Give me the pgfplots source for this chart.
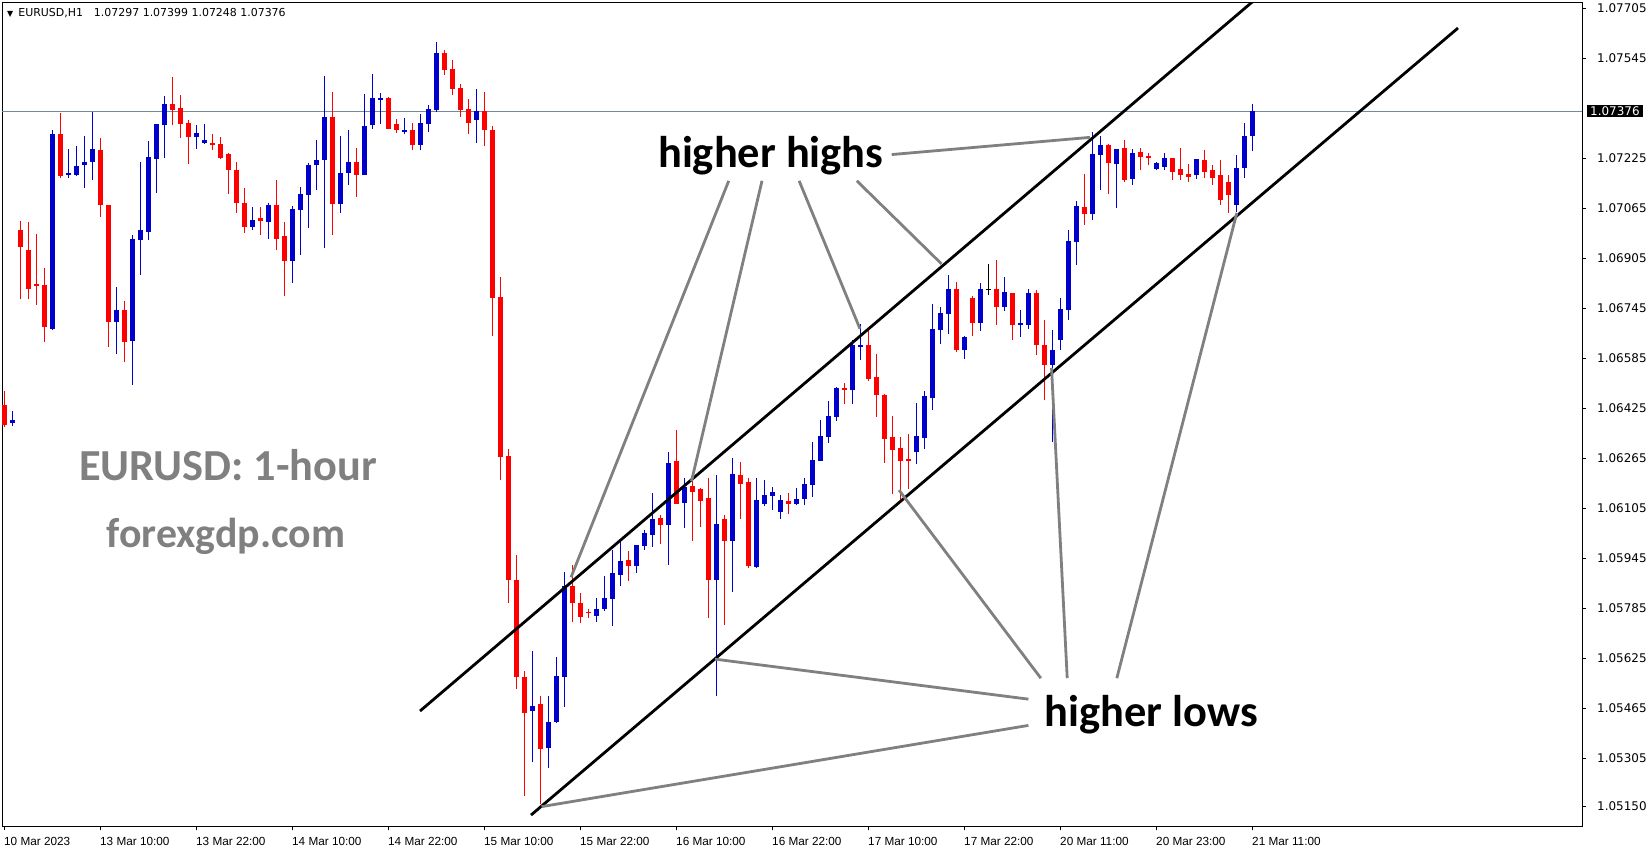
\documentclass[border=0pt]{standalone}
\usepackage{pgfplots}
\pgfplotsset{compat=1.18}
\usepackage{pgfplotstable}
\usepackage{fontspec}
\setmainfont{Liberation Sans}
\newfontfamily\carlito{Carlito}
\newfontfamily\dejavu{DejaVu Sans}
\definecolor{bullc}{RGB}{0,0,204}
\definecolor{bearc}{RGB}{255,0,0}
\definecolor{annog}{RGB}{128,128,128}
\definecolor{pline}{RGB}{119,136,153}

\pgfplotstableread{
i o h l c
0 1.06436 1.06480 1.06365 1.06372
2 1.06996 1.07025 1.06774 1.06940
3 1.06932 1.07021 1.06774 1.06808
4 1.06823 1.06983 1.06756 1.06817
5 1.06819 1.06874 1.06638 1.06684
7 1.07303 1.07370 1.07163 1.07169
12 1.07252 1.07290 1.07038 1.07074
13 1.07076 1.07076 1.06622 1.06702
15 1.06739 1.06767 1.06574 1.06638
21 1.07399 1.07486 1.07330 1.07381
22 1.07386 1.07428 1.07291 1.07336
23 1.07338 1.07348 1.07208 1.07294
26 1.07274 1.07303 1.07250 1.07269
27 1.07271 1.07293 1.07224 1.07227
28 1.07239 1.07242 1.07112 1.07189
29 1.07188 1.07213 1.07051 1.07083
30 1.07082 1.07130 1.06987 1.07006
32 1.07034 1.07070 1.06981 1.07025
34 1.07076 1.07156 1.06933 1.06968
35 1.06977 1.07021 1.06785 1.06897
41 1.07357 1.07438 1.06981 1.07080
44 1.07213 1.07258 1.07102 1.07173
48 1.07418 1.07421 1.07320 1.07320
49 1.07335 1.07351 1.07307 1.07317
51 1.07316 1.07338 1.07250 1.07269
55 1.07562 1.07572 1.07493 1.07509
56 1.07511 1.07540 1.07429 1.07448
57 1.07450 1.07463 1.07358 1.07381
58 1.07383 1.07415 1.07304 1.07339
60 1.07376 1.07437 1.07265 1.07314
61 1.07317 1.07328 1.06655 1.06779
62 1.06782 1.06845 1.06196 1.06268
63 1.06271 1.06295 1.05802 1.05874
64 1.05876 1.05954 1.05526 1.05564
65 1.05564 1.05585 1.05184 1.05451
67 1.05477 1.05505 1.05158 1.05336
71 1.05856 1.05923 1.05742 1.05801
72 1.05802 1.05834 1.05739 1.05758
73 1.05773 1.05783 1.05755 1.05769
78 1.05940 1.05968 1.05872 1.05921
82 1.06074 1.06083 1.05992 1.06052
84 1.06256 1.06356 1.06120 1.06120
86 1.06176 1.06196 1.06001 1.06158
87 1.06165 1.06170 1.06046 1.06129
88 1.06137 1.06203 1.05755 1.05876
90 1.06071 1.06083 1.05731 1.06001
92 1.06212 1.06253 1.06072 1.06184
93 1.06189 1.06203 1.05915 1.05921
98 1.06128 1.06154 1.06088 1.06120
105 1.06489 1.06506 1.06440 1.06485
108 1.06628 1.06682 1.06513 1.06519
109 1.06525 1.06599 1.06398 1.06469
110 1.06469 1.06472 1.06251 1.06327
111 1.06333 1.06401 1.06152 1.06293
112 1.06298 1.06333 1.06123 1.06257
113 1.06263 1.06343 1.06168 1.06257
119 1.06807 1.06829 1.06606 1.06613
121 1.06778 1.06785 1.06657 1.06699
124 1.06807 1.06900 1.06693 1.06750
126 1.06794 1.06794 1.06645 1.06690
129 1.06794 1.06804 1.06596 1.06628
130 1.06628 1.06708 1.06452 1.06564
135 1.07070 1.07175 1.07012 1.07048
138 1.07268 1.07271 1.07112 1.07210
140 1.07258 1.07284 1.07150 1.07157
142 1.07245 1.07258 1.07189 1.07230
143 1.07233 1.07242 1.07202 1.07226
146 1.07226 1.07226 1.07154 1.07182
147 1.07191 1.07258 1.07154 1.07173
148 1.07176 1.07207 1.07150 1.07166
150 1.07220 1.07252 1.07162 1.07181
151 1.07188 1.07204 1.07140 1.07162
152 1.07172 1.07220 1.07076 1.07092
153 1.07149 1.07172 1.07050 1.07108
}\beartab

\pgfplotstableread{
i o h l c
1 1.06378 1.06416 1.06368 1.06388
6 1.06680 1.07316 1.06676 1.07303
8 1.07172 1.07255 1.07163 1.07178
9 1.07172 1.07265 1.07169 1.07201
10 1.07202 1.07297 1.07131 1.07213
11 1.07214 1.07373 1.07156 1.07255
14 1.06702 1.06813 1.06600 1.06741
16 1.06641 1.06980 1.06501 1.06967
17 1.06962 1.07213 1.06852 1.06996
18 1.06989 1.07281 1.06964 1.07229
19 1.07224 1.07335 1.07115 1.07335
20 1.07330 1.07425 1.07227 1.07399
24 1.07294 1.07332 1.07256 1.07306
25 1.07275 1.07335 1.07272 1.07284
31 1.07006 1.07070 1.06994 1.07028
33 1.07022 1.07082 1.06968 1.07076
36 1.06897 1.07073 1.06827 1.07063
37 1.07061 1.07133 1.06917 1.07111
38 1.07109 1.07210 1.07003 1.07204
39 1.07202 1.07284 1.07125 1.07220
40 1.07218 1.07489 1.06939 1.07357
42 1.07080 1.07297 1.07051 1.07178
43 1.07179 1.07316 1.07141 1.07213
45 1.07173 1.07431 1.07173 1.07329
46 1.07330 1.07495 1.07320 1.07418
47 1.07413 1.07434 1.07336 1.07417
50 1.07310 1.07354 1.07304 1.07317
52 1.07269 1.07367 1.07250 1.07338
53 1.07336 1.07396 1.07310 1.07383
54 1.07381 1.07598 1.07374 1.07562
59 1.07346 1.07447 1.07275 1.07377
66 1.05455 1.05648 1.05292 1.05472
68 1.05339 1.05505 1.05275 1.05422
69 1.05422 1.05629 1.05418 1.05568
70 1.05566 1.05901 1.05470 1.05856
74 1.05761 1.05818 1.05742 1.05783
75 1.05783 1.05888 1.05777 1.05818
76 1.05815 1.05971 1.05729 1.05898
77 1.05892 1.06000 1.05857 1.05936
79 1.05921 1.05987 1.05899 1.05987
80 1.05985 1.06036 1.05972 1.06026
81 1.06020 1.06154 1.05982 1.06071
83 1.06052 1.06285 1.05924 1.06250
85 1.06123 1.06201 1.06043 1.06174
89 1.05876 1.06212 1.05505 1.06055
91 1.06001 1.06266 1.05837 1.06215
94 1.05918 1.06203 1.05915 1.06131
95 1.06120 1.06196 1.06112 1.06147
96 1.06145 1.06173 1.06100 1.06157
97 1.06093 1.06147 1.06072 1.06132
99 1.06120 1.06170 1.06114 1.06135
100 1.06136 1.06202 1.06114 1.06183
101 1.06180 1.06316 1.06142 1.06260
102 1.06257 1.06388 1.06257 1.06336
103 1.06334 1.06448 1.06315 1.06400
104 1.06398 1.06494 1.06385 1.06490
106 1.06485 1.06644 1.06440 1.06628
107 1.06622 1.06695 1.06580 1.06628
114 1.06286 1.06443 1.06248 1.06336
115 1.06330 1.06480 1.06296 1.06464
116 1.06459 1.06759 1.06421 1.06678
117 1.06674 1.06749 1.06632 1.06730
118 1.06728 1.06852 1.06664 1.06807
120 1.06613 1.06657 1.06584 1.06654
122 1.06699 1.06826 1.06673 1.06807
125 1.06750 1.06845 1.06737 1.06797
127 1.06693 1.06741 1.06654 1.06698
128 1.06693 1.06807 1.06680 1.06794
131 1.06564 1.06676 1.06317 1.06612
132 1.06644 1.06778 1.06612 1.06743
133 1.06740 1.06996 1.06708 1.06961
134 1.06957 1.07089 1.06884 1.07073
136 1.07048 1.07309 1.07029 1.07239
137 1.07236 1.07297 1.07125 1.07268
139 1.07207 1.07255 1.07067 1.07255
141 1.07160 1.07255 1.07141 1.07242
144 1.07192 1.07214 1.07186 1.07211
145 1.07198 1.07242 1.07189 1.07226
149 1.07170 1.07223 1.07160 1.07223
154 1.07076 1.07236 1.07053 1.07194
155 1.07194 1.07338 1.07162 1.07297
156 1.07297 1.07399 1.07248 1.07376
}\bulltab

\pgfplotstableread{
i o h l c
123 1.06804 1.06887 1.06789 1.06807
}\dojitab

\begin{document}
\begin{tikzpicture}
\useasboundingbox (-2bp,-24bp) rectangle (1647bp,826bp);
\begin{axis}[
  at={(0,0)}, anchor=south west,
  scale only axis, width=1580bp, height=823.6bp,
  xmin=-0.25, xmax=197.25, ymin=1.05088, ymax=1.07724,
  clip mode=individual,
  axis line style={black, line width=1bp},
  tick style={black, line width=1bp},
  tick align=outside, major tick length=4bp,
  xtick={0,12,...,156},
  xticklabels={10 Mar 2023, 13 Mar 10:00, 13 Mar 22:00, 14 Mar 10:00, 14 Mar 22:00, 15 Mar 10:00, 15 Mar 22:00, 16 Mar 10:00, 16 Mar 22:00, 17 Mar 10:00, 17 Mar 22:00, 20 Mar 11:00, 20 Mar 23:00, 21 Mar 11:00},
  xtick pos=left,
  xticklabel style={anchor=north west, inner sep=0pt, yshift=-7bp, font=\fontsize{11.8}{12}\selectfont},
  ytick={1.07705,1.07545,1.07225,1.07065,1.06905,1.06745,1.06585,1.06425,1.06265,1.06105,1.05945,1.05785,1.05625,1.05465,1.05305,1.05150},
  yticklabels={1.07705,1.07545,1.07225,1.07065,1.06905,1.06745,1.06585,1.06425,1.06265,1.06105,1.05945,1.05785,1.05625,1.05465,1.05305,1.05150},
  ytick pos=right, yticklabel pos=right,
  yticklabel style={anchor=west, inner sep=0pt, xshift=11bp, font=\dejavu\fontsize{12}{12}\selectfont},
  scaled y ticks=false,
]
% current price line
\addplot[pline, line width=1bp] coordinates {(-0.25,1.07376) (197.25,1.07376)};

% bear candles
\addplot[draw=none, mark=none, error bars/.cd, y dir=plus, y explicit, error mark=none,
  error bar style={draw=bearc, line width=1bp}]
  table[x=i, y=l, y error expr=\thisrow{h}-\thisrow{l}] {\beartab};
\addplot[draw=none, mark=none, error bars/.cd, y dir=plus, y explicit, error mark=none,
  error bar style={draw=bearc, line width=5bp}]
  table[x=i, y=c, y error expr=\thisrow{o}-\thisrow{c}] {\beartab};
% bull candles
\addplot[draw=none, mark=none, error bars/.cd, y dir=plus, y explicit, error mark=none,
  error bar style={draw=bullc, line width=1bp}]
  table[x=i, y=l, y error expr=\thisrow{h}-\thisrow{l}] {\bulltab};
\addplot[draw=none, mark=none, error bars/.cd, y dir=plus, y explicit, error mark=none,
  error bar style={draw=bullc, line width=5bp}]
  table[x=i, y=o, y error expr=\thisrow{c}-\thisrow{o}] {\bulltab};
% doji
\addplot[draw=none, mark=none, error bars/.cd, y dir=plus, y explicit, error mark=none,
  error bar style={draw=black, line width=1bp}]
  table[x=i, y=l, y error expr=\thisrow{h}-\thisrow{l}] {\dojitab};
\addplot[draw=none, mark=none, error bars/.cd, y dir=plus, y explicit, error mark=none,
  error bar style={draw=black, line width=5bp}]
  table[x=i, y=o, y error expr=\thisrow{c}-\thisrow{o}] {\dojitab};

% channel lines
\addplot[black, line width=2.8bp] coordinates {(52,1.05456) (157.75,1.07763)};
\addplot[black, line width=2.8bp] coordinates {(65.875,1.05123) (181.75,1.07642)};

% higher highs pointers
\addplot[annog, line width=2.8bp] coordinates {(110.96,1.07237) (135.75,1.07292)};
\addplot[annog, line width=2.8bp] coordinates {(90.59,1.07153) (70.875,1.05884)};
\addplot[annog, line width=2.8bp] coordinates {(94.75,1.07153) (85.94,1.06192)};
\addplot[annog, line width=2.8bp] coordinates {(99.39,1.07153) (107,1.06679)};
\addplot[annog, line width=2.8bp] coordinates {(106.6,1.07153) (117.19,1.06887)};
% higher lows pointers
\addplot[annog, line width=2.8bp] coordinates {(128.05,1.05494) (88.875,1.05622)};
\addplot[annog, line width=2.8bp] coordinates {(128.05,1.05410) (67.19,1.05150)};
\addplot[annog, line width=2.8bp] coordinates {(129.6,1.05561) (111.875,1.06163)};
\addplot[annog, line width=2.8bp] coordinates {(132.9,1.05561) (130.94,1.06554)};
\addplot[annog, line width=2.8bp] coordinates {(139.1,1.05561) (154.1,1.07050)};

% texts
\node[font=\carlito\bfseries\fontsize{44.6}{46}\selectfont] at (axis cs:95.85,1.07234) {higher highs};
\node[font=\carlito\bfseries\fontsize{44.6}{46}\selectfont] at (axis cs:143.4,1.05443) {higher lows};
\node[text=annog, font=\carlito\bfseries\fontsize{44.5}{46}\selectfont] at (axis cs:28.03,1.06244) {EURUSD: 1-hour};
\node[text=annog, font=\carlito\bfseries\fontsize{42}{44}\selectfont] at (axis cs:27.76,1.06015) {forexgdp.com};

% header
\node[anchor=west, inner sep=0pt, xshift=5bp, yshift=-10.3bp, font=\dejavu\fontsize{11}{12}\selectfont] at (axis cs:-0.25,1.07724) {{\fontsize{8}{8}\selectfont ▼}\hspace{5bp}EURUSD,H1\hspace{11bp}1.07297 1.07399 1.07248 1.07376};

% current price box
\node[anchor=west, fill=black, text=white, inner xsep=3bp, inner ysep=0pt, minimum height=12bp, xshift=5bp, font=\dejavu\fontsize{12}{12}\selectfont] at (axis cs:197.25,1.07376) {1.07376};
\end{axis}
\end{tikzpicture}
\end{document}
